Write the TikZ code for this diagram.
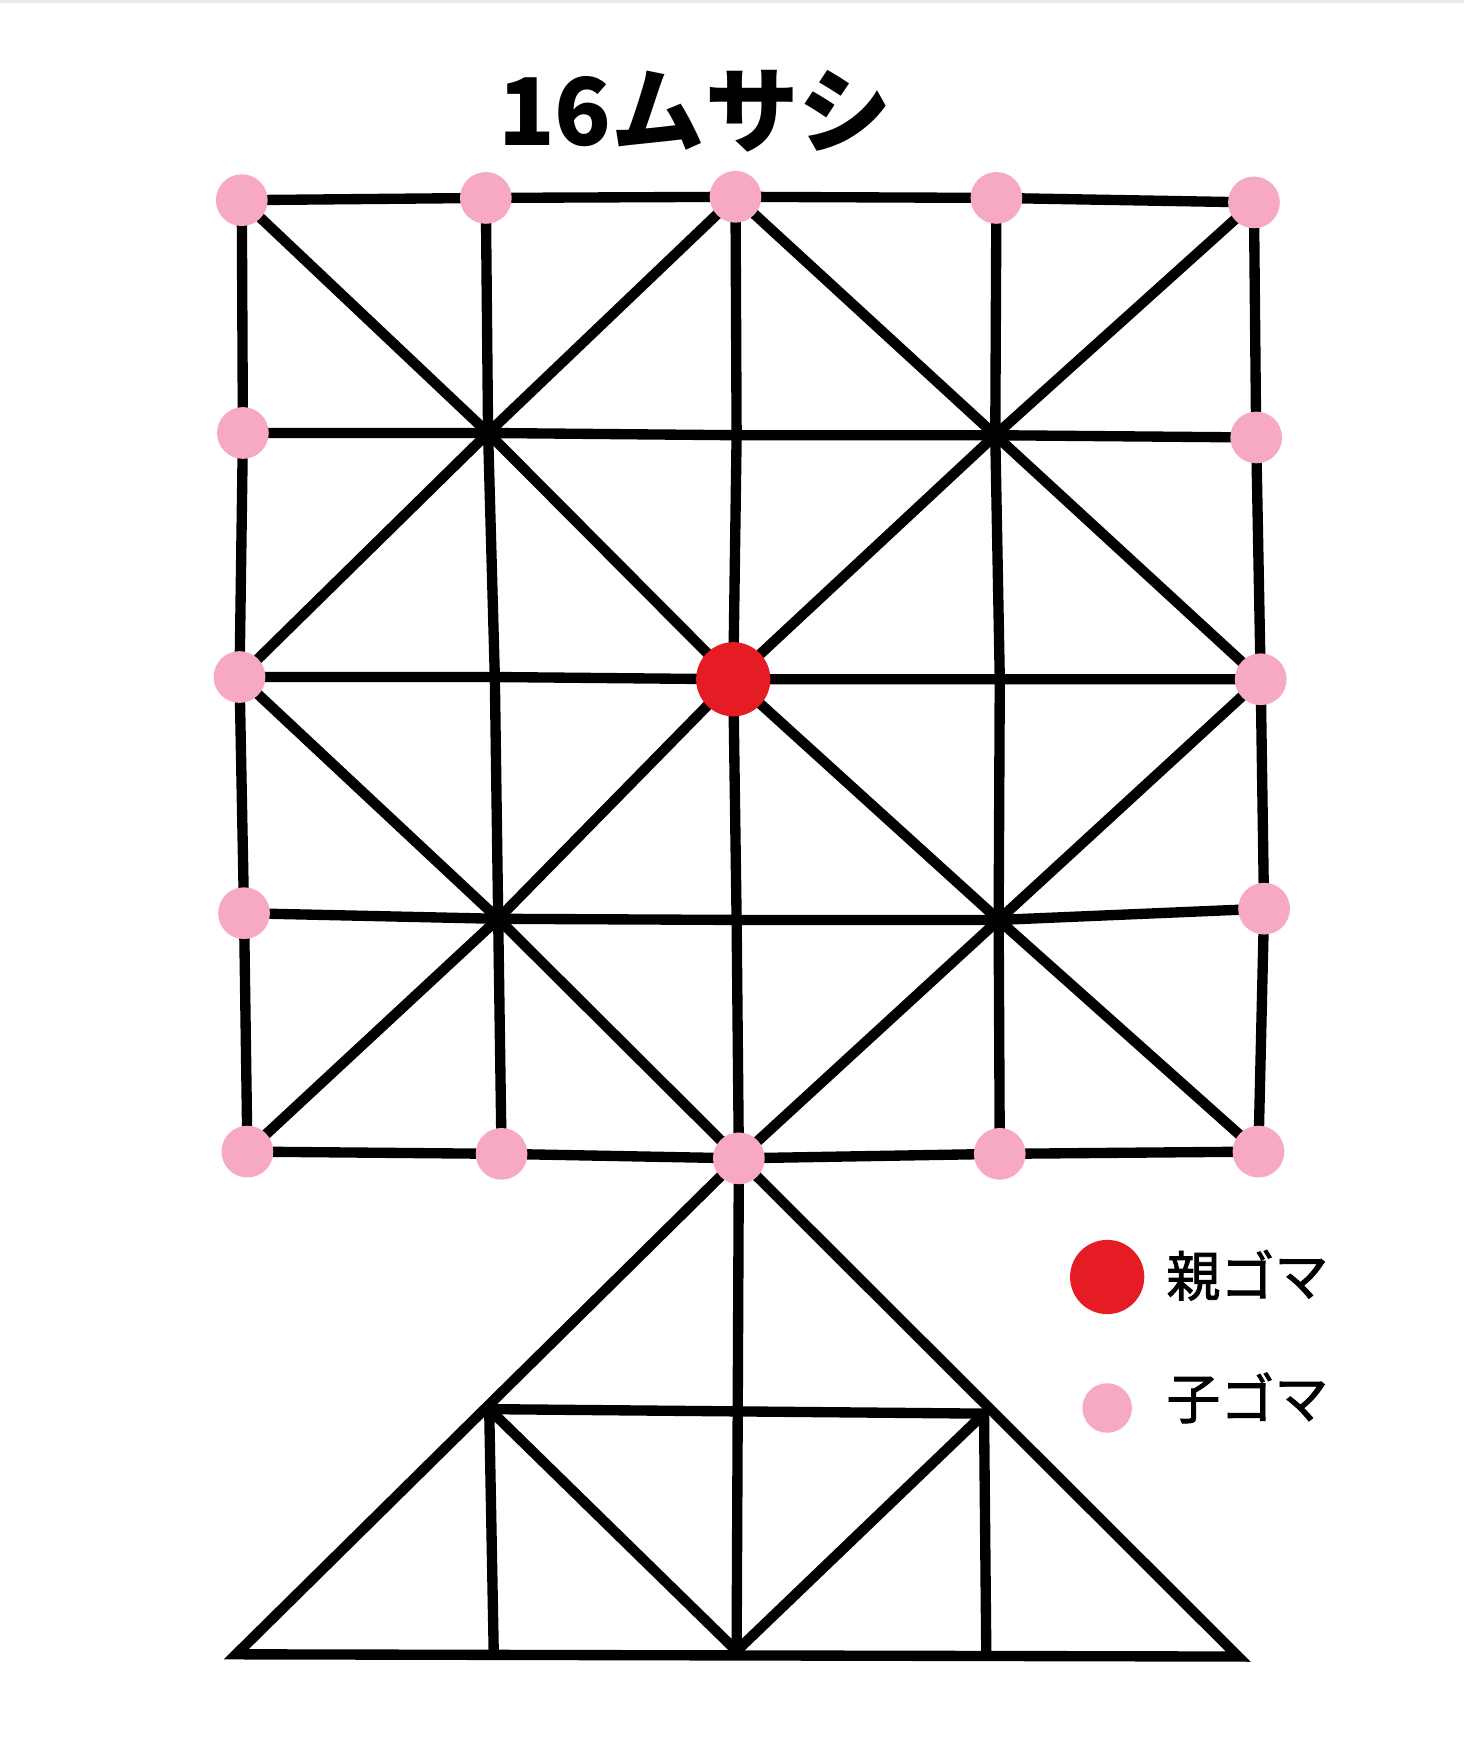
\documentclass[tikz,border=0pt]{standalone}
\usepackage{fontspec}
\newfontfamily\jpfont{Noto Sans CJK JP}
\newfontfamily\jplegend{Noto Sans CJK JP}[FakeBold=1.6]
\definecolor{komared}{HTML}{E51C24}
\definecolor{komapink}{HTML}{F7A8C2}
\begin{document}
\begin{tikzpicture}[x=1pt,y=-1pt,
  boardline/.style={line width=9.2pt, line cap=round, line join=round, black},
  childkoma/.style={circle, fill=komapink, minimum size=46pt, inner sep=0pt},
  parentkoma/.style={circle, fill=komared, minimum size=66pt, inner sep=0pt},
  titletext/.style={font=\jpfont\bfseries\fontsize{83}{90}\selectfont, inner sep=0pt, anchor=base},
  legendtext/.style={font=\jplegend\fontsize{48}{56}\selectfont, inner sep=0pt, anchor=west}]
\useasboundingbox (0,0) rectangle (1302,1565);
\fill[white] (0,0) rectangle (1302,1565);
\draw[gray!18, line width=2.5pt] (0,1.2) -- (1302,1.2);
% grid coordinates
\coordinate (p00) at (215,178); \coordinate (p01) at (432,176); \coordinate (p02) at (654,175); \coordinate (p03) at (886,176); \coordinate (p04) at (1115,180);
\coordinate (p10) at (216,385); \coordinate (p11) at (434,385); \coordinate (p12) at (655,387); \coordinate (p13) at (885,387); \coordinate (p14) at (1117,389);
\coordinate (p20) at (213,602); \coordinate (p21) at (440,602); \coordinate (p22) at (652,604); \coordinate (p23) at (889,604); \coordinate (p24) at (1121,604);
\coordinate (p30) at (217,812); \coordinate (p31) at (443,817); \coordinate (p32) at (655,818); \coordinate (p33) at (888,818); \coordinate (p34) at (1124,808);
\coordinate (p40) at (220,1024); \coordinate (p41) at (446,1026); \coordinate (p42) at (657,1030); \coordinate (p43) at (889,1026); \coordinate (p44) at (1119,1024);
% triangle coordinates
\coordinate (bl) at (210,1471); \coordinate (br) at (1101,1473); \coordinate (bc) at (655,1468);
\coordinate (ml) at (435,1253); \coordinate (mr) at (875,1257);
\coordinate (lv) at (439,1468); \coordinate (rv) at (877,1469);
% horizontals and verticals
\foreach \i in {0,...,4} {
  \draw[boardline] (p\i0) -- (p\i1) -- (p\i2) -- (p\i3) -- (p\i4);
  \draw[boardline] (p0\i) -- (p1\i) -- (p2\i) -- (p3\i) -- (p4\i);
}
% diagonals
\draw[boardline] (p00) -- (p11) -- (p22) -- (p33) -- (p44);
\draw[boardline] (p04) -- (p13) -- (p22) -- (p31) -- (p40);
\draw[boardline] (p02) -- (p11) -- (p20) -- (p31) -- (p42) -- (p33) -- (p24) -- (p13) -- cycle;
% triangle
\draw[boardline, line join=miter] (p42) -- (bl) -- (br) -- cycle;
\draw[boardline] (p42) -- (bc);
\draw[boardline] (ml) -- (mr);
\draw[boardline] (ml) -- (lv);
\draw[boardline] (mr) -- (rv);
\draw[boardline] (ml) -- (bc) -- (mr);
% pieces
\foreach \n in {p00,p01,p02,p03,p04,p10,p14,p20,p24,p30,p34,p40,p41,p42,p43,p44}
  \node[childkoma] (k\n) at (\n) {};
\node[parentkoma] (oya) at (p22) {};
% title
\node[titletext] (title) at (618,129) {16ムサシ};
% legend
\node[parentkoma] (legoya) at (984.5,1135.5) {};
\node[legendtext] (legoyatext) at (1037,1134) {親ゴマ};
\node[childkoma, minimum size=44pt] (legko) at (984.5,1252) {};
\node[legendtext] (legkotext) at (1037,1243) {子ゴマ};
\end{tikzpicture}
\end{document}
